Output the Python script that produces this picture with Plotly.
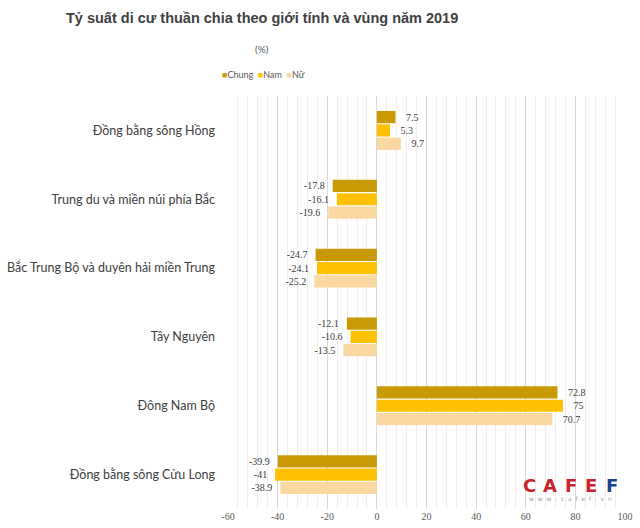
import plotly.graph_objects as go

regions = [
    "Đồng bằng sông Hồng",
    "Trung du và miền núi phía Bắc",
    "Bắc Trung Bộ và duyên hải miền Trung",
    "Tây Nguyên",
    "Đông Nam Bộ",
    "Đồng bằng sông Cửu Long",
]
chung = [7.5, -17.8, -24.7, -12.1, 72.8, -39.9]
nam = [5.3, -16.1, -24.1, -10.6, 75, -41]
nu = [9.7, -19.6, -25.2, -13.5, 70.7, -38.9]

series = [("Chung", chung, "#C99A06"), ("Nam", nam, "#FFC000"), ("Nữ", nu, "#FBD8A2")]

x_ticks = [-60, -40, -20, 0, 20, 40, 60, 80, 100]

W, H = 640, 528
pl, pr, pt, pb = 228, 15, 96, 19
pw, ph = W - pl - pr, H - pt - pb


def dx(px):
    return (px - pl) / pw


def dy(py):
    return (H - pb - py) / ph


fig = go.Figure()
for name, vals, color in series:
    labels = [("   " + f"{v:g}") if v >= 0 else (f"{v:g}" + "  ") for v in vals]
    fig.add_trace(go.Bar(
        name=name, y=regions, x=vals, orientation="h",
        marker=dict(color=color, line=dict(width=0)),
        text=labels, textposition="outside", cliponaxis=False,
        textfont=dict(family="Liberation Serif", size=10, color="#404040"),
        showlegend=False,
    ))

fig.update_layout(
    width=W, height=H,
    paper_bgcolor="white", plot_bgcolor="white",
    margin=dict(l=pl, r=pr, t=pt, b=pb, autoexpand=False),
    barmode="group", bargap=0.42, bargroupgap=0.08,
    showlegend=False,
)

# title
fig.add_annotation(
    text="<b>Tỷ suất di cư thuần chia theo giới tính và vùng năm 2019</b>",
    x=dx(262), y=dy(18), xref="x domain", yref="y domain",
    xanchor="center", yanchor="middle", showarrow=False,
    font=dict(family="Liberation Sans", size=14.5, color="#404040"),
)
# unit
fig.add_annotation(
    text="(%)", x=dx(262), y=dy(49), xref="x domain", yref="y domain",
    xanchor="center", yanchor="middle", showarrow=False,
    font=dict(family="Lato", size=10, color="#595959"),
)
# legend built as text
legend_text = "&nbsp;&nbsp;".join(
    f"<span style='color:{c}'>■</span><span style='color:#595959'>{n}</span>" for n, _, c in series
)
fig.add_annotation(
    text=legend_text, x=dx(263), y=dy(74), xref="x domain", yref="y domain",
    xanchor="center", yanchor="middle", showarrow=False,
    font=dict(family="Lato", size=9, color="#595959"),
)

fig.update_xaxes(
    range=[-60, 100], tickvals=x_ticks, ticktext=[f"{t}" for t in x_ticks],
    showgrid=True, gridcolor="#D9D9D9", gridwidth=1,
    minor=dict(dtick=4, showgrid=True, gridcolor="#EEEEEE", gridwidth=1),
    zeroline=True, zerolinecolor="#D9D9D9", zerolinewidth=1,
    tickfont=dict(family="Liberation Serif", size=10, color="#595959"),
    ticks="", showline=False, automargin=False,
)
fig.update_yaxes(
    autorange="reversed", showgrid=False, zeroline=False, showline=False,
    tickfont=dict(family="Lato", size=12.5, color="#404040"),
    ticks="", ticklabelstandoff=12, automargin=False,
)

# CAFEF watermark (letters spaced out like the logo)
logo_letters = ["C", "A", "F", "E", "F"]
logo_colors = ["#C8232C", "#C8232C", "#C8232C", "#C8232C", "#1F3F8F"]
for i, (ch, col) in enumerate(zip(logo_letters, logo_colors)):
    fig.add_annotation(
        text=f"<b>{ch}</b>", x=dx(529 + i * 20.8), y=dy(485), xref="x domain", yref="y domain",
        xanchor="center", yanchor="middle", showarrow=False,
        font=dict(family="DejaVu Sans", size=18, color=col),
    )
fig.add_annotation(
    text="w  w  w  .  c  a  f  e  f  .  v  n",
    x=dx(570), y=dy(498), xref="x domain", yref="y domain",
    xanchor="center", yanchor="middle",
    showarrow=False, font=dict(family="DejaVu Sans", size=6, color="#A0A0A0"),
)

fig.write_html("out.html", post_script="document.body.style.margin='0px';",
               config={"displayModeBar": False})
